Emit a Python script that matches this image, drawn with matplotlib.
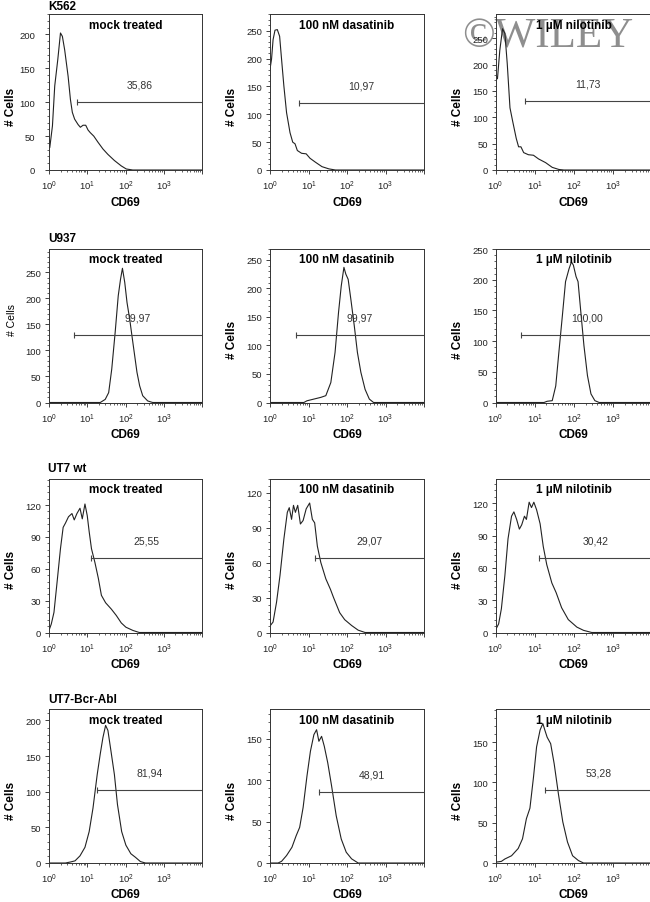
import numpy as np
import matplotlib
matplotlib.use("Agg")
import matplotlib.pyplot as plt
from matplotlib.ticker import FixedLocator, NullFormatter, AutoMinorLocator, MultipleLocator

plt.rcParams['font.family'] = ['Liberation Sans', 'DejaVu Sans']
plt.rcParams['mathtext.default'] = 'regular'

# ---- data (x = log10 CD69, y = # cells) ----
cell_lines = ["K562", "U937", "UT7 wt", "UT7-Bcr-Abl"]
treatments = ["mock treated", "100 nM dasatinib", "1 \u00b5M nilotinib"]

k562_mock_x = [0.0, 0.02, 0.09, 0.15, 0.23, 0.30, 0.35, 0.41, 0.50, 0.56, 0.61, 0.67, 0.76, 0.82, 0.89,
               0.96, 1.02, 1.08, 1.17, 1.28, 1.41, 1.54, 1.71, 1.89, 2.02, 2.19, 4.0]
k562_mock_y = [50, 33, 65, 124, 163, 202, 197, 177, 138, 104, 85, 75, 67, 63, 66,
               66, 59, 55, 50, 41, 31, 23, 14, 6, 1.5, 0, 0]
k562_dasa_x = [0.0, 0.04, 0.08, 0.13, 0.19, 0.25, 0.30, 0.36, 0.43, 0.52, 0.59, 0.65, 0.71, 0.82, 0.94,
               1.04, 1.18, 1.35, 1.53, 1.70, 4.0]
k562_dasa_y = [181, 199, 234, 251, 252, 240, 199, 151, 103, 67, 50, 47, 35, 30, 29,
               21, 14, 6, 2, 0, 0]
k562_nilo_x = [0.0, 0.05, 0.11, 0.18, 0.24, 0.30, 0.37, 0.44, 0.53, 0.59, 0.65, 0.72, 0.84, 0.97, 1.10,
               1.28, 1.45, 1.62, 1.75, 4.0]
k562_nilo_y = [182, 173, 227, 268, 259, 202, 118, 92, 60, 44, 44, 33, 29, 28, 21,
               14, 5, 1, 0, 0]

u937_mock_x = [0.0, 1.34, 1.47, 1.56, 1.64, 1.73, 1.81, 1.87, 1.92, 1.98, 2.04, 2.11, 2.18, 2.24, 2.30,
               2.37, 2.45, 2.58, 2.71, 4.0]
u937_mock_y = [0, 0, 6, 19, 64, 135, 205, 237, 258, 231, 192, 160, 122, 90, 58,
               32, 13, 3, 0, 0]
u937_dasa_x = [0.0, 0.88, 0.96, 1.14, 1.32, 1.45, 1.58, 1.69, 1.78, 1.85, 1.92, 1.97, 2.03, 2.10, 2.19,
               2.27, 2.36, 2.47, 2.58, 2.69, 4.0]
u937_dasa_y = [0, 0, 3, 6, 9, 12, 35, 88, 158, 204, 237, 225, 216, 181, 134,
               88, 53, 23, 6, 0, 0]
u937_nilo_x = [0.0, 1.24, 1.32, 1.45, 1.54, 1.62, 1.71, 1.79, 1.88, 1.94, 1.99, 2.06, 2.11, 2.18, 2.26,
               2.35, 2.44, 2.54, 2.65, 4.0]
u937_nilo_y = [0, 0, 2, 3, 27, 82, 142, 197, 218, 229, 224, 205, 197, 148, 93,
               44, 14, 3, 0, 0]

ut7_mock_x = [0.01, 0.06, 0.13, 0.21, 0.30, 0.37, 0.43, 0.51, 0.60, 0.66, 0.73, 0.81, 0.87, 0.94, 1.00,
              1.05, 1.11, 1.20, 1.29, 1.37, 1.48, 1.63, 1.76, 1.89, 2.01, 2.19, 2.36, 4.0]
ut7_mock_y = [3, 8, 19, 47, 79, 99, 103, 109, 112, 106, 112, 117, 107, 121, 110,
              95, 79, 66, 51, 35, 28, 22, 16, 9, 5, 2, 0, 0]
ut7_dasa_x = [0.01, 0.08, 0.17, 0.26, 0.36, 0.45, 0.50, 0.56, 0.61, 0.66, 0.72, 0.79, 0.86, 0.94, 1.03,
              1.10, 1.16, 1.23, 1.32, 1.45, 1.57, 1.65, 1.81, 1.94, 2.12, 2.29, 2.47, 4.0]
ut7_dasa_y = [6, 9, 26, 49, 80, 103, 107, 97, 109, 103, 109, 93, 96, 106, 111,
              97, 94, 74, 60, 46, 37, 30, 17, 11, 6, 2, 0, 0]
ut7_nilo_x = [0.01, 0.08, 0.15, 0.24, 0.32, 0.41, 0.47, 0.54, 0.61, 0.67, 0.74, 0.79, 0.86, 0.92, 0.98,
              1.05, 1.14, 1.22, 1.31, 1.44, 1.55, 1.69, 1.86, 2.08, 2.25, 2.46, 4.0]
ut7_nilo_y = [3, 8, 22, 53, 87, 108, 112, 105, 96, 100, 108, 105, 121, 116, 121,
              114, 101, 80, 63, 46, 37, 23, 12, 5, 2, 0, 0]

bcr_mock_x = [0.0, 0.43, 0.56, 0.68, 0.81, 0.94, 1.05, 1.15, 1.26, 1.34, 1.41, 1.48, 1.54, 1.62, 1.71,
              1.79, 1.90, 2.01, 2.14, 2.26, 2.39, 2.52, 4.0]
bcr_mock_y = [0, 0, 1.4, 3, 10, 22, 44, 77, 124, 153, 176, 193, 186, 157, 124,
              82, 44, 25, 13, 8, 2, 0, 0]
bcr_dasa_x = [0.0, 0.21, 0.30, 0.43, 0.57, 0.68, 0.77, 0.86, 0.96, 1.05, 1.14, 1.21, 1.27, 1.34, 1.41,
              1.50, 1.60, 1.72, 1.85, 1.98, 2.12, 2.29, 4.0]
bcr_dasa_y = [0, 0, 2, 9, 19, 33, 43, 67, 105, 135, 155, 161, 147, 153, 141,
              121, 93, 57, 29, 13, 5, 0, 0]
bcr_nilo_x = [0.0, 0.15, 0.24, 0.41, 0.58, 0.69, 0.79, 0.88, 0.97, 1.05, 1.14, 1.21, 1.26, 1.32, 1.41,
              1.50, 1.61, 1.72, 1.84, 1.97, 2.12, 2.25, 4.0]
bcr_nilo_y = [1, 2, 5, 9, 18, 30, 55, 68, 106, 144, 165, 173, 165, 156, 148,
              123, 85, 51, 26, 9, 3, 0, 0]

curves_x = [[k562_mock_x, k562_dasa_x, k562_nilo_x],
            [u937_mock_x, u937_dasa_x, u937_nilo_x],
            [ut7_mock_x, ut7_dasa_x, ut7_nilo_x],
            [bcr_mock_x, bcr_dasa_x, bcr_nilo_x]]
curves_y = [[k562_mock_y, k562_dasa_y, k562_nilo_y],
            [u937_mock_y, u937_dasa_y, u937_nilo_y],
            [ut7_mock_y, ut7_dasa_y, ut7_nilo_y],
            [bcr_mock_y, bcr_dasa_y, bcr_nilo_y]]

# gate: start (CD69), level (# cells), percentage label
gate_start = [[5.4, 5.8, 5.6], [4.4, 4.8, 4.6], [12.6, 14.4, 12.9], [18, 19, 18]]
gate_level = [[100, 121, 131], [130, 118, 110], [70.6, 64, 69.2], [102, 86, 90.4]]
gate_text = [["35,86", "10,97", "11,73"], ["99,97", "99,97", "100,00"],
             ["25,55", "29,07", "30,42"], ["81,94", "48,91", "53,28"]]

y_max = [[230, 280, 296], [296, 270, 251], [145, 132, 143], [216, 186, 191]]
y_step = [[50, 50, 50], [50, 50, 50], [30, 30, 30], [50, 50, 50]]

# ---- layout in pixels ----
W, H = 650, 903
col_lr = [(49, 202), (270, 424), (495.5, 652)]
row_tb = [(15, 171), (249.5, 403.5), (479.5, 633.5), (710, 864)]
row_label_y = [7, 239.5, 469.5, 700]

fig = plt.figure(figsize=(W / 100, H / 100), dpi=100)
ink = '#222222'

for r in range(4):
    fig.text(48 / W, 1 - row_label_y[r] / H, cell_lines[r], ha='left', va='center',
             fontsize=8.5, fontweight='bold')
    for c in range(3):
        l, rr = col_lr[c]
        t, b = row_tb[r]
        ax = fig.add_axes([l / W, 1 - b / H, (rr - l) / W, (b - t) / H])
        ax.patch.set_visible(False)
        xs = np.power(10.0, curves_x[r][c])
        ax.plot(xs, curves_y[r][c], color=ink, lw=0.8)

        ax.set_xscale('log')
        ax.set_xlim(1, 1e4)
        ax.set_ylim(0, y_max[r][c])
        ax.xaxis.set_major_locator(FixedLocator([1, 10, 100, 1000, 10000]))
        ax.set_xticklabels(['$10^{0}$', '$10^{1}$', '$10^{2}$', '$10^{3}$', ''])
        ax.xaxis.set_minor_locator(FixedLocator([m * 10 ** d for d in range(4) for m in range(2, 10)]))
        ax.xaxis.set_minor_formatter(NullFormatter())
        ax.yaxis.set_major_locator(MultipleLocator(y_step[r][c]))
        ax.yaxis.set_minor_locator(AutoMinorLocator(5))
        ax.tick_params(which='major', direction='out', length=3, width=0.6,
                       labelsize=6.8, pad=3.5, color=ink, labelcolor=ink)
        ax.tick_params(which='minor', direction='out', length=1.5, width=0.5, color=ink)
        ax.tick_params(axis='y', which='major', pad=7 if (r == 0 and c == 0) else 2.5)
        for s in ax.spines.values():
            s.set_linewidth(0.7)
            s.set_color('#333333')

        # gate
        x0 = gate_start[r][c]
        gy = gate_level[r][c]
        ax.plot([x0, 1e4], [gy, gy], color='#444444', lw=0.8)
        ax.plot([x0], [gy], marker='|', ms=4, mew=0.8, color='#444444')
        ax.annotate(gate_text[r][c], xy=(np.sqrt(x0 * 1e4), gy), xytext=(0, 12.5),
                    textcoords='offset points', ha='center', va='center',
                    fontsize=7.5, color='#333333')

        ax.text(0.5, 0.93, treatments[c], transform=ax.transAxes, ha='center', va='center',
                fontsize=8.5, fontweight='bold')

        w_px = rr - l
        h_px = b - t
        ax.set_xlabel('CD69', fontsize=8.5, fontweight='bold')
        ax.xaxis.set_label_coords(0.5, -25.5 / h_px)
        if r == 1 and c == 0:
            ax.set_ylabel('# Cells', fontsize=7.5)
            ax.yaxis.set_label_coords(-32 / w_px, 0.54)
        else:
            ax.set_ylabel('# Cells', fontsize=8.5, fontweight='bold')
            ax.yaxis.set_label_coords(-32 / w_px, 0.41)

# watermark, behind the panels
fig.text(462 / W, 1 - 47 / H, '\u00a9WILEY', family=['Liberation Serif', 'DejaVu Serif'],
         fontsize=31, color='#7a7a7a', alpha=0.85, ha='left', va='baseline', zorder=-1)

fig.savefig('out.png', dpi=100)
